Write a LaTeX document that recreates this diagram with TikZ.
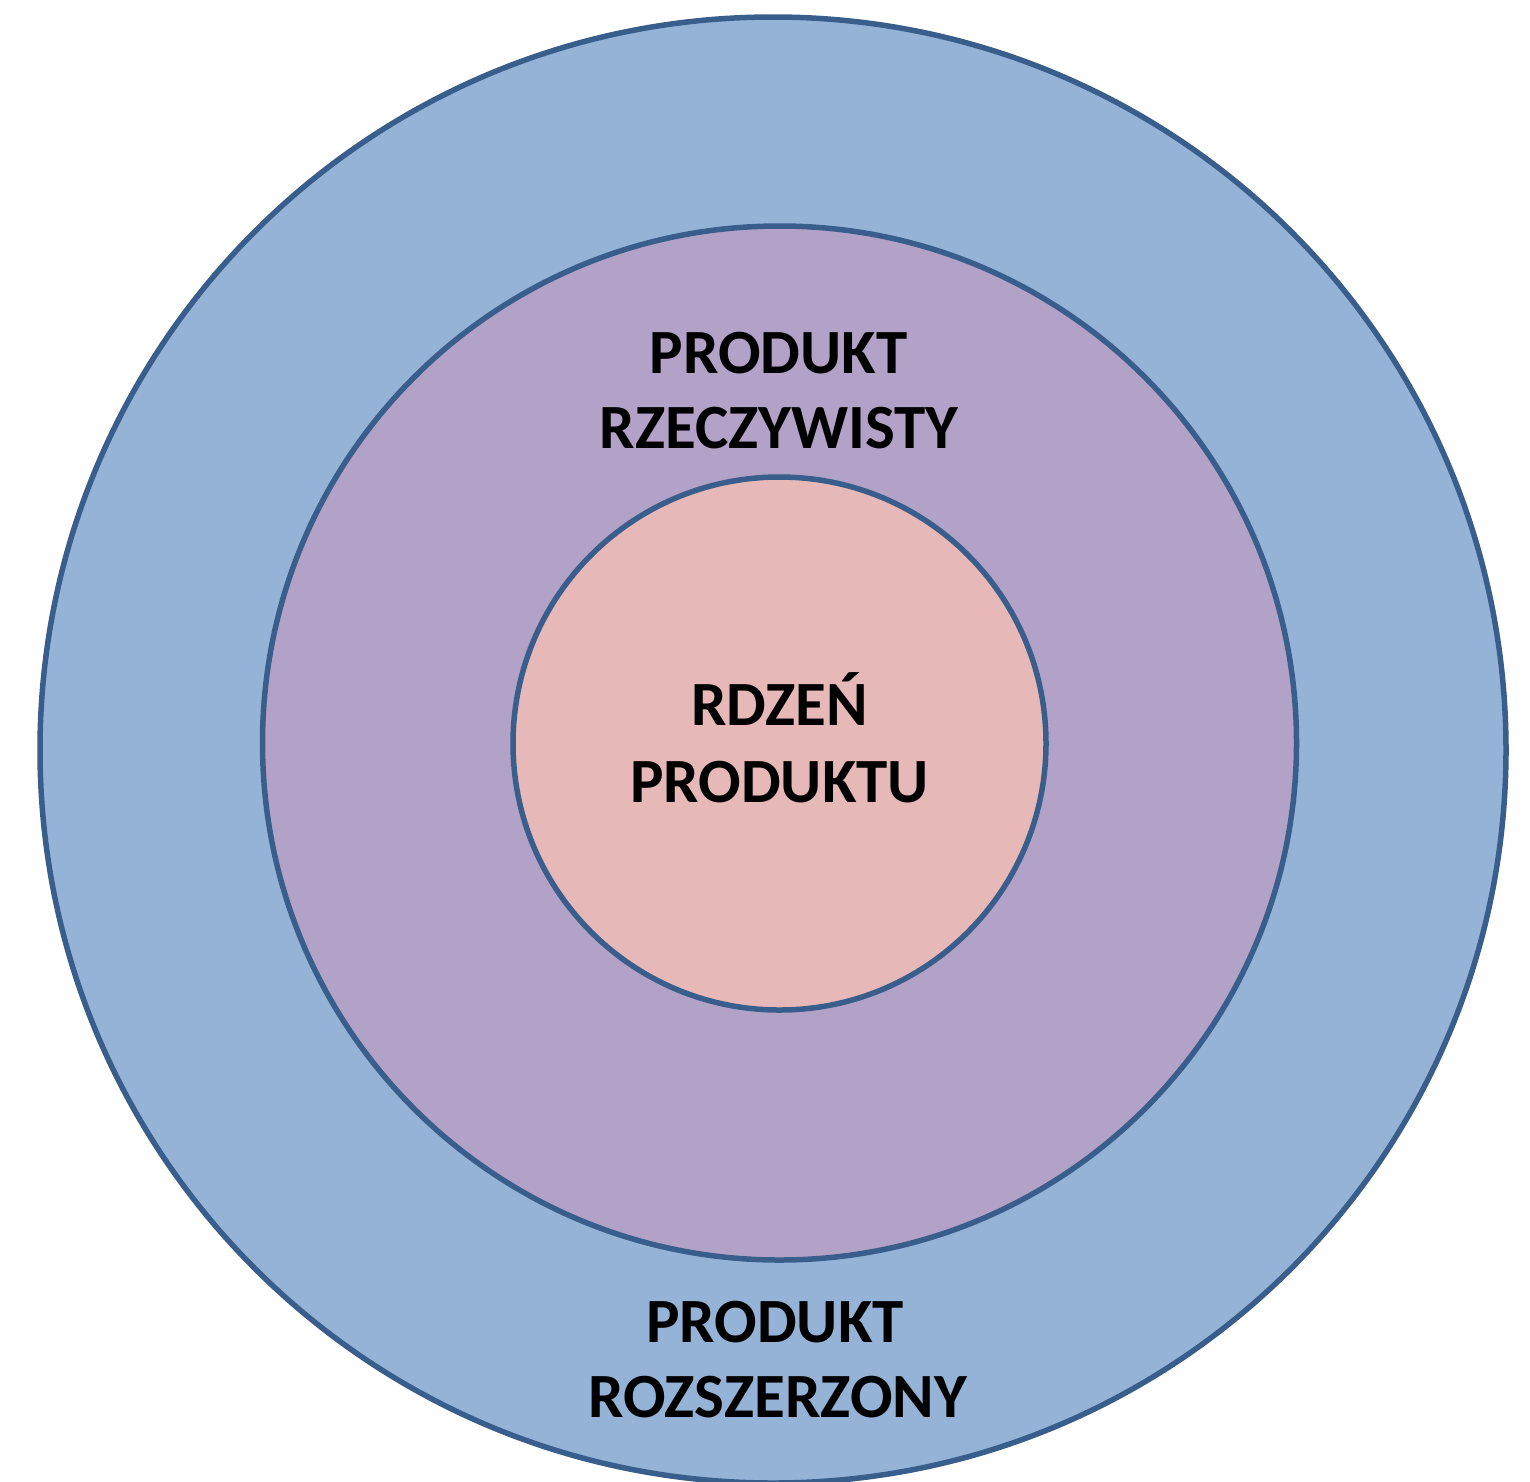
\documentclass[tikz,border=0pt]{standalone}
\usepackage{fontspec}
\setmainfont{Carlito}
\definecolor{ringblue}{HTML}{95B3D7}
\definecolor{ringviolet}{HTML}{B3A2C7}
\definecolor{ringpink}{HTML}{E6B9B8}
\definecolor{ringline}{HTML}{3A5E8C}
\begin{document}
\begin{tikzpicture}[x=1pt,y=-1pt,
  ring/.style={circle,draw=ringline,line width=5.5pt,inner sep=0pt},
  lbl/.style={anchor=base,inner sep=0pt,font=\fontsize{63}{75}\selectfont\bfseries,text=black}]
\useasboundingbox (0,0) rectangle (1530,1481);
\node[ring,fill=ringblue,minimum size=1466pt] (outer) at (773,750) {};
\node[ring,fill=ringviolet,minimum size=1034pt] (middle) at (779.5,743) {};
\node[ring,fill=ringpink,minimum size=533pt] (inner) at (779.5,743.5) {};
\node[lbl] (rzA) at (778.5,373) {PRODUKT};
\node[lbl] (rzB) at (779,448) {RZECZYWISTY};
\node[lbl] (rdA) at (779.5,725) {RDZEŃ};
\node[lbl] (rdB) at (779.5,802) {PRODUKTU};
\node[lbl] (roA) at (775,1342) {PRODUKT};
\node[lbl] (roB) at (777.5,1417) {ROZSZERZONY};
\end{tikzpicture}
\end{document}
